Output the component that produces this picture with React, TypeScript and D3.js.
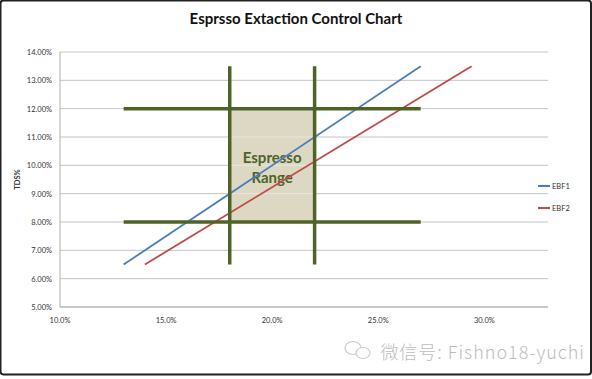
import React from "react";
import * as d3 from "d3";

const W = 592;
const H = 379;

const title = "Esprsso Extaction Control Chart";
const yTicks = [5, 6, 7, 8, 9, 10, 11, 12, 13, 14];
const xTicks = [10, 15, 20, 25, 30];
const seriesNames = ["EBF1", "EBF2"];
const ebf1X = [13, 27];
const ebf1Y = [6.5, 13.5];
const ebf2X = [14, 29.4];
const ebf2Y = [6.5, 13.5];
const rangeX = [18, 22];
const rangeY = [8, 12];
const limitLineX = [13, 27];
const limitLineY = [6.5, 13.5];
const rangeLabel = ["Espresso", "Range"];
const watermark = "微信号: Fishno18-yuchi";

export default function App() {
  const x = d3.scaleLinear().domain([10, 33]).range([60, 548]);
  const y = d3.scaleLinear().domain([5, 14]).range([307, 52]);
  const line = d3
    .line<[number, number]>()
    .x((d) => x(d[0]))
    .y((d) => y(d[1]));
  const s1: [number, number][] = ebf1X.map((v, i) => [v, ebf1Y[i]]);
  const s2: [number, number][] = ebf2X.map((v, i) => [v, ebf2Y[i]]);
  const colors = ["#4a7ebb", "#be4b48"];
  const green = "#4f6228";
  const font = "Lato, 'Open Sans', sans-serif";

  return (
    <svg
      width={W}
      height={H}
      style={{ position: "absolute", left: 0, top: 0, background: "#fff" }}
      fontFamily={font}
    >
      <rect x={0.5} y={0.5} width={W - 1.5} height={H - 5} fill="#fff" stroke="#222" strokeWidth={2} rx={3} />
      <text x={296} y={24} textAnchor="middle" fontSize={15} fontWeight="bold" fill="#111">
        {title}
      </text>

      {/* gridlines */}
      {yTicks.map((t) => (
        <line key={t} x1={60} x2={548} y1={y(t)} y2={y(t)} stroke="#c4c4c4" strokeWidth={1} />
      ))}
      <line x1={60} x2={60} y1={52} y2={307} stroke="#b0b0b0" />
      <line x1={60} x2={548} y1={307} y2={307} stroke="#b0b0b0" />

      {yTicks.map((t) => (
        <text key={t} x={52} y={y(t) + 3} textAnchor="end" fontSize={7.5} fill="#333">
          {t.toFixed(2) + "%"}
        </text>
      ))}
      {xTicks.map((t) => (
        <text key={t} x={x(t)} y={323} textAnchor="middle" fontSize={7.5} fill="#333">
          {t.toFixed(1) + "%"}
        </text>
      ))}
      <text
        transform={`translate(20,${y(9.5)}) rotate(-90)`}
        textAnchor="middle"
        fontSize={7.5}
        fontWeight="bold"
        fill="#333"
      >
        TDS%
      </text>

      {/* espresso range */}
      <rect
        x={x(rangeX[0])}
        y={y(rangeY[1])}
        width={x(rangeX[1]) - x(rangeX[0])}
        height={y(rangeY[0]) - y(rangeY[1])}
        fill="#ddd8c4"
      />
      {yTicks
        .filter((t) => t > rangeY[0] && t < rangeY[1])
        .map((t) => (
          <line key={t} x1={x(rangeX[0])} x2={x(rangeX[1])} y1={y(t)} y2={y(t)} stroke="#e8e6e0" strokeWidth={1} />
        ))}
      <text x={x(20)} y={163} textAnchor="middle" fontSize={15} fontWeight="bold" fill={green}>
        {rangeLabel[0]}
      </text>
      <text x={x(20)} y={183} textAnchor="middle" fontSize={15} fontWeight="bold" fill={green}>
        {rangeLabel[1]}
      </text>

      {/* series */}
      <path d={line(s1) || ""} fill="none" stroke={colors[0]} strokeWidth={1.8} />
      <path d={line(s2) || ""} fill="none" stroke={colors[1]} strokeWidth={1.8} />

      {/* control limits */}
      {rangeY.map((v) => (
        <line key={"h" + v} x1={x(limitLineX[0])} x2={x(limitLineX[1])} y1={y(v)} y2={y(v)} stroke={green} strokeWidth={3.5} />
      ))}
      {rangeX.map((v) => (
        <line key={"v" + v} x1={x(v)} x2={x(v)} y1={y(limitLineY[0])} y2={y(limitLineY[1])} stroke={green} strokeWidth={3.5} />
      ))}

      {/* legend */}
      {seriesNames.map((n, i) => (
        <g key={n} transform={`translate(538,${186 + i * 22})`}>
          <line x1={0} x2={12} y1={0} y2={0} stroke={colors[i]} strokeWidth={2} />
          <text x={14} y={3} fontSize={7.5} fill="#333">
            {n}
          </text>
        </g>
      ))}

      {/* watermark */}
      <g opacity={0.6}>
        <ellipse cx={353} cy={348} rx={8} ry={6.5} fill="none" stroke="#aaa" strokeWidth={1.2} />
        <ellipse cx={363} cy={353} rx={7} ry={5.5} fill="#fff" stroke="#aaa" strokeWidth={1.2} />
      </g>
      <text
        x={585}
        y={359}
        textAnchor="end"
        fontSize={18}
        letterSpacing={1}
        fill="#bdbdbd"
        fontFamily="'Noto Sans CJK SC', 'Noto Sans', sans-serif"
        fontWeight={300}
      >
        {watermark}
      </text>
    </svg>
  );
}
